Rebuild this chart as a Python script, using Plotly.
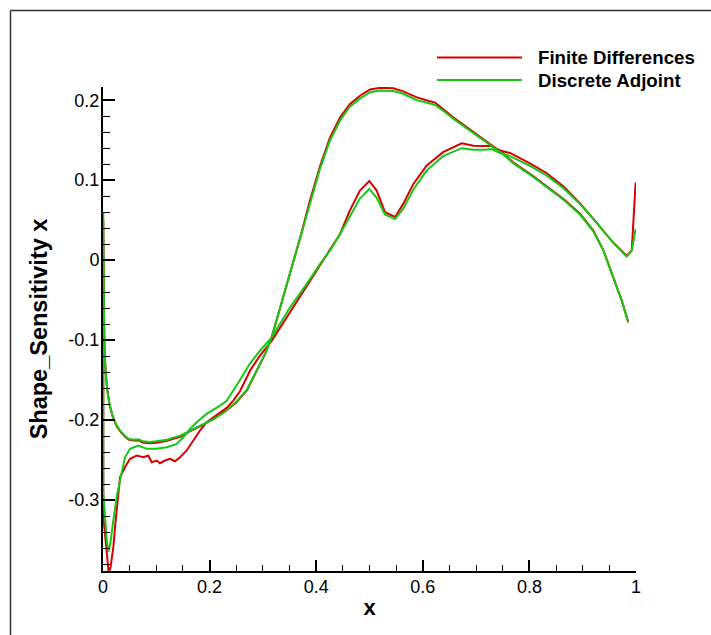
import plotly.graph_objects as go

# ---------------- data ----------------
# Branch F (flat leading edge -> high peak -> trailing edge at -0.078)
fd_F_x = [0.0005, 0.001, 0.0018, 0.0028, 0.005, 0.008, 0.012, 0.018, 0.025, 0.032, 0.040, 0.048,
          0.057, 0.066, 0.075, 0.088, 0.100, 0.120, 0.132, 0.145, 0.160, 0.182, 0.207, 0.230,
          0.250, 0.270, 0.290, 0.305, 0.3165, 0.338, 0.357, 0.372, 0.388, 0.407, 0.426, 0.445,
          0.463, 0.482, 0.501, 0.520, 0.545, 0.563, 0.589, 0.607, 0.623, 0.638, 0.657, 0.682,
          0.707, 0.726, 0.748, 0.770, 0.801, 0.832, 0.864, 0.895, 0.920, 0.939, 0.957, 0.973, 0.9856]
fd_F_y = [0.05, 0.0, -0.06, -0.11, -0.14, -0.162, -0.18, -0.195, -0.207, -0.214, -0.220, -0.2245,
          -0.2255, -0.2255, -0.228, -0.229, -0.2285, -0.226, -0.2235, -0.221, -0.215, -0.208, -0.1985, -0.189,
          -0.178, -0.163, -0.137, -0.116, -0.0965, -0.045, -0.002, 0.033, 0.074, 0.117, 0.1535, 0.1785,
          0.195, 0.2056, 0.2135, 0.2155, 0.215, 0.211, 0.2035, 0.200, 0.197, 0.189, 0.1785, 0.166,
          0.154, 0.145, 0.135, 0.122, 0.108, 0.093, 0.0765, 0.058, 0.037, 0.012, -0.021, -0.050, -0.0778]

da_F_x = fd_F_x
da_F_y = [0.06, 0.0, -0.06, -0.11, -0.14, -0.162, -0.18, -0.195, -0.206, -0.213, -0.219, -0.2235,
          -0.2245, -0.224, -0.2265, -0.2275, -0.2265, -0.2245, -0.222, -0.2195, -0.214, -0.207, -0.199, -0.189,
          -0.177, -0.162, -0.136, -0.116, -0.0965, -0.0465, -0.005, 0.030, 0.070, 0.114, 0.150, 0.175,
          0.192, 0.202, 0.210, 0.212, 0.2115, 0.208, 0.200, 0.197, 0.194, 0.187, 0.177, 0.165,
          0.153, 0.144, 0.134, 0.121, 0.107, 0.092, 0.0755, 0.057, 0.036, 0.012, -0.021, -0.050, -0.0778]

# Branch S (spiky leading edge -> shock bump -> plateau -> trailing edge at x=1)
fd_S_x = [0.0005, 0.003, 0.007, 0.0105, 0.014, 0.0194, 0.0225, 0.0288, 0.0319, 0.0413, 0.0507, 0.0632,
          0.0757, 0.085, 0.0913, 0.1007, 0.1069, 0.1163, 0.1257, 0.1351, 0.1445, 0.157, 0.1694, 0.182,
          0.1945, 0.207, 0.2195, 0.232, 0.2445, 0.257, 0.276, 0.295, 0.3165, 0.351, 0.382, 0.407,
          0.426, 0.445, 0.463, 0.482, 0.4997, 0.5135, 0.529, 0.548, 0.563, 0.582, 0.607, 0.638,
          0.673, 0.695, 0.717, 0.729, 0.745, 0.7636, 0.801, 0.832, 0.864, 0.895, 0.926, 0.957,
          0.9825, 0.992, 0.9993]
fd_S_y = [-0.32, -0.338, -0.37, -0.39, -0.385, -0.359, -0.335, -0.2965, -0.2715, -0.259, -0.2485, -0.2444,
          -0.2465, -0.2444, -0.2527, -0.2506, -0.254, -0.2506, -0.2485, -0.2515, -0.2465, -0.238, -0.2256, -0.2131,
          -0.2027, -0.1965, -0.190, -0.1848, -0.1756, -0.164, -0.138, -0.119, -0.101, -0.065, -0.034, -0.007,
          0.012, 0.033, 0.062, 0.087, 0.099, 0.087, 0.060, 0.054, 0.070, 0.095, 0.118, 0.135,
          0.146, 0.143, 0.1427, 0.143, 0.137, 0.134, 0.121, 0.109, 0.092, 0.071, 0.047, 0.022,
          0.0056, 0.012, 0.097]

da_S_x = [0.0005, 0.003, 0.007, 0.010, 0.0135, 0.0194, 0.026, 0.032, 0.0413, 0.0507, 0.0663, 0.082,
          0.1007, 0.1195, 0.1382, 0.1507, 0.1632, 0.1757, 0.1945, 0.2195, 0.232, 0.255, 0.276, 0.295,
          0.3165, 0.351, 0.382, 0.407, 0.426, 0.445, 0.463, 0.482, 0.4997, 0.5135, 0.529, 0.548,
          0.563, 0.582, 0.607, 0.638, 0.673, 0.695, 0.717, 0.729, 0.745, 0.7636, 0.801, 0.832,
          0.864, 0.895, 0.926, 0.957, 0.9825, 0.992, 0.9993]
da_S_y = [-0.29, -0.317, -0.35, -0.365, -0.355, -0.3256, -0.295, -0.2756, -0.2465, -0.236, -0.2319, -0.236,
          -0.236, -0.234, -0.2298, -0.2215, -0.211, -0.2027, -0.1923, -0.1819, -0.176, -0.152, -0.129, -0.113,
          -0.0965, -0.059, -0.030, -0.005, 0.012, 0.033, 0.055, 0.077, 0.089, 0.078, 0.057, 0.0515,
          0.064, 0.088, 0.112, 0.130, 0.140, 0.138, 0.138, 0.139, 0.134, 0.130, 0.118, 0.106,
          0.090, 0.070, 0.047, 0.022, 0.0045, 0.012, 0.039]

series_names = ["Finite Differences", "Discrete Adjoint"]
series_colors = ["#d80000", "#14c814"]

x_tickvals = [0, 0.2, 0.4, 0.6, 0.8, 1]
x_ticktext = ["0", "0.2", "0.4", "0.6", "0.8", "1"]
y_tickvals = [-0.3, -0.2, -0.1, 0, 0.1, 0.2]
y_ticktext = ["-0.3", "-0.2", "-0.1", "0", "0.1", "0.2"]

# ---------------- layout helpers ----------------
W, H = 711, 635
L, R, T, B = 103, 75, 87, 64
PW, PH = W - L - R, H - T - B


def px_x(px):
    return (px - L) / PW


def px_y(py):
    return (H - B - py) / PH


FONT = "Liberation Sans, Arial, Helvetica, sans-serif"

fig = go.Figure()
branches = [(fd_F_x, fd_F_y, fd_S_x, fd_S_y), (da_F_x, da_F_y, da_S_x, da_S_y)]
for name, color, (fx, fy, sx, sy) in zip(series_names, series_colors, branches):
    xs = list(reversed(fx)) + list(sx)
    ys = list(reversed(fy)) + list(sy)
    fig.add_trace(go.Scatter(x=xs, y=ys, mode="lines", name=name,
                             line=dict(color=color, width=2), showlegend=False))

axis_common = dict(showgrid=False, zeroline=False, showline=True, linecolor="black", linewidth=2,
                   ticks="inside", tickcolor="black", tickwidth=2, mirror=False,
                   tickfont=dict(family=FONT, size=18, color="black"))

fig.update_xaxes(range=[0, 1], tickvals=x_tickvals, ticktext=x_ticktext, ticklen=11,
                 minor=dict(dtick=0.05, tick0=0, ticks="inside", ticklen=6, tickwidth=1,
                            tickcolor="black", showgrid=False),
                 ticklabelstandoff=-2,
                 title=dict(text="x", font=dict(family=FONT, size=22, color="black", weight="bold"),
                            standoff=4),
                 **axis_common)
fig.update_yaxes(range=[-0.38875, 0.2165], tickvals=y_tickvals, ticktext=y_ticktext, ticklen=12,
                 minor=dict(dtick=0.02, tick0=0, ticks="inside", ticklen=7, tickwidth=1,
                            tickcolor="black", showgrid=False),
                 ticklabelstandoff=-2,
                 title=dict(text="Shape_Sensitivity x",
                            font=dict(family=FONT, size=23.5, color="black", weight="bold"),
                            standoff=14),
                 **axis_common)

shapes = []
# outer frame (only top and left edges visible)
shapes.append(dict(type="line", xref="paper", yref="paper", x0=px_x(10.5), y0=px_y(10.5),
                   x1=px_x(10.5), y1=px_y(640), line=dict(color="#333333", width=1.5)))
shapes.append(dict(type="line", xref="paper", yref="paper", x0=px_x(10.5), y0=px_y(10.5),
                   x1=px_x(720), y1=px_y(10.5), line=dict(color="#333333", width=1.5)))
annotations = []
legend_rows_py = [57.5, 80]
for name, color, py in zip(series_names, series_colors, legend_rows_py):
    shapes.append(dict(type="line", xref="paper", yref="paper", x0=px_x(437), x1=px_x(522),
                       y0=px_y(py), y1=px_y(py), line=dict(color=color, width=2)))
    annotations.append(dict(xref="paper", yref="paper", x=px_x(536), y=px_y(py), text=name,
                            showarrow=False, xanchor="left", yanchor="middle",
                            font=dict(family=FONT, size=18.7, color="black", weight="bold")))

fig.update_layout(width=W, height=H, margin=dict(l=L, r=R, t=T, b=B, autoexpand=False),
                  paper_bgcolor="white", plot_bgcolor="white", showlegend=False,
                  shapes=shapes, annotations=annotations)

fig.write_html("out.html", config={"displayModeBar": False},
               post_script="document.body.style.margin='0px';")
